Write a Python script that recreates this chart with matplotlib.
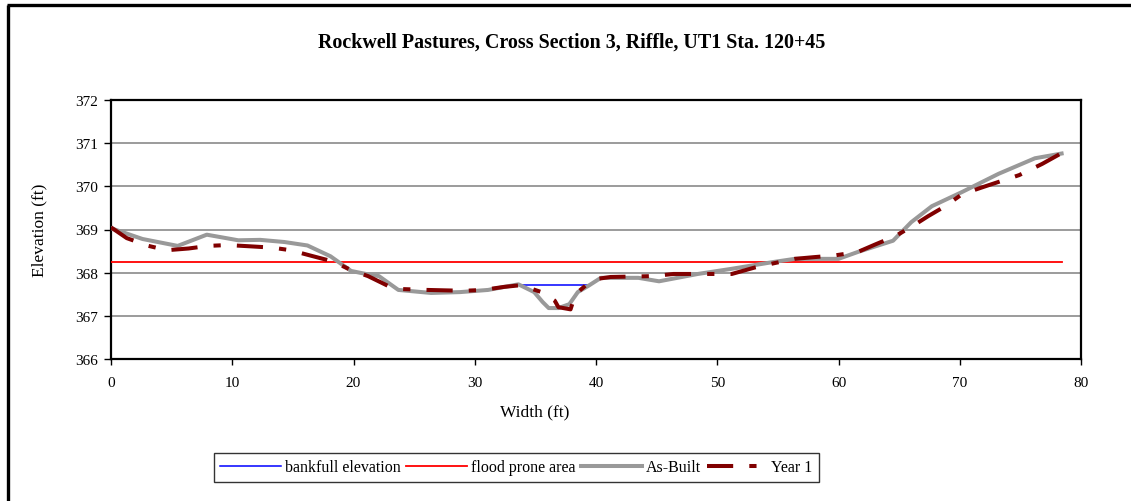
import matplotlib
matplotlib.use("Agg")
import matplotlib.pyplot as plt
from matplotlib.lines import Line2D

plt.rcParams['font.family'] = ['Liberation Serif', 'DejaVu Serif']

title = "Rockwell Pastures, Cross Section 3, Riffle, UT1 Sta. 120+45"

asbuilt_x = [0, 2.6, 5.5, 7.9, 10.5, 12.3, 14.3, 16.2, 18.1, 19.8, 21.2, 22.1, 23.7,
             26.4, 28.8, 31.1, 33.6, 34.9, 35.6, 36.1, 36.9, 37.8, 38.5, 39.4, 40.4,
             43.5, 45.2, 48.4, 51.2, 54.7, 56.4, 60.0, 61.6, 64.5, 66.0, 67.7, 70.2,
             73.2, 76.2, 78.4]
asbuilt_y = [369.03, 368.78, 368.62, 368.88, 368.75, 368.76, 368.71, 368.63, 368.38, 368.04,
             367.96, 367.92, 367.6, 367.53, 367.55, 367.6, 367.73, 367.55, 367.32, 367.18,
             367.18, 367.27, 367.55, 367.7, 367.88, 367.88, 367.8, 367.97, 368.09, 368.25,
             368.32, 368.32, 368.48, 368.74, 369.17, 369.54, 369.87, 370.29, 370.65, 370.76]

year1_x = [0, 1.3, 3.1, 4.6, 6.4, 8.0, 9.6, 11.5, 13.3, 14.8, 16.4, 18.3, 19.8, 21.2,
           22.8, 24.0, 26.1, 29.1, 30.7, 32.4, 33.8, 35.5, 36.6, 36.9, 37.9, 38.3,
           39.3, 40.2, 41.2, 44.7, 46.4, 51.2, 53.1, 54.7, 56.4, 58.0, 59.7, 61.6,
           63.0, 64.7, 66.0, 67.4, 68.8, 70.2, 72.1, 74.9, 76.8, 78.4]
year1_y = [369.05, 368.8, 368.62, 368.52, 368.56, 368.62, 368.64, 368.61, 368.58, 368.52,
           368.4, 368.26, 368.06, 367.92, 367.7, 367.62, 367.6, 367.58, 367.6, 367.67,
           367.71, 367.55, 367.35, 367.2, 367.15, 367.5, 367.74, 367.86, 367.9, 367.92,
           367.97, 367.97, 368.12, 368.22, 368.32, 368.36, 368.4, 368.48, 368.65, 368.85,
           369.06, 369.31, 369.54, 369.82, 370.0, 370.26, 370.52, 370.77]

bankfull_x = [33.6, 39.4]
bankfull_y = [367.72, 367.72]

flood_x = [0, 78.4]
flood_y = [368.24, 368.24]

W, H = 1131, 502
fig = plt.figure(figsize=(W / 100, H / 100), dpi=100)
ax = fig.add_axes([111 / W, 1 - 360 / H, (1081 - 111) / W, (360 - 101) / H])

ax.plot(bankfull_x, bankfull_y, color='#0000FF', lw=1.1, label='bankfull elevation', zorder=3)
ax.plot(flood_x, flood_y, color='#FF0000', lw=1.3, label='flood prone area', zorder=3)
ax.plot(asbuilt_x, asbuilt_y, color='#999999', lw=2.9, label='As-Built', zorder=4,
        solid_joinstyle='round')
ax.plot(year1_x, year1_y, color='#800000', lw=2.9, label='Year 1', zorder=5,
        dashes=(6.5, 4, 1.8, 4))

ax.set_xlim(0, 80)
ax.set_ylim(366, 372)
ax.set_xticks(range(0, 81, 10))
ax.set_yticks(range(366, 373))
ax.yaxis.grid(True, color='#808080', lw=1.1)
ax.set_axisbelow(True)
for s in ax.spines.values():
    s.set_linewidth(1.6)
    s.set_color('black')
ax.tick_params(axis='both', labelsize=11, direction='out', width=1, length=4, pad=8)
ax.tick_params(axis='y', length=5, pad=4)
ax.set_xlabel('Width (ft)', fontsize=12.5)
ax.xaxis.set_label_coords((535 - 111) / 970, (360 - 404) / 259)
ax.set_ylabel('Elevation (ft)', fontsize=12.5, labelpad=20)

fig.text(572 / W, 1 - 43 / H, title, ha='center', va='center',
         fontsize=14.4, fontweight='bold')

leg = fig.legend(loc='center', bbox_to_anchor=(516.5 / W, 1 - 468.5 / H), ncol=4,
                 frameon=True, fancybox=False, edgecolor='black', fontsize=11.5,
                 handlelength=3.8, handletextpad=0.25, columnspacing=0.35,
                 borderpad=0.4, borderaxespad=0)
leg.get_frame().set_linewidth(1.0)

# figure frame (left and top edges)
fig.add_artist(Line2D([8 / W, 8 / W], [0, 1 - 6 / H], transform=fig.transFigure,
                      color='black', lw=2.4, solid_capstyle='butt'))
fig.add_artist(Line2D([7 / W, 1], [1 - 6 / H, 1 - 6 / H], transform=fig.transFigure,
                      color='black', lw=2.4, solid_capstyle='butt'))

fig.savefig('out.png', dpi=100)
